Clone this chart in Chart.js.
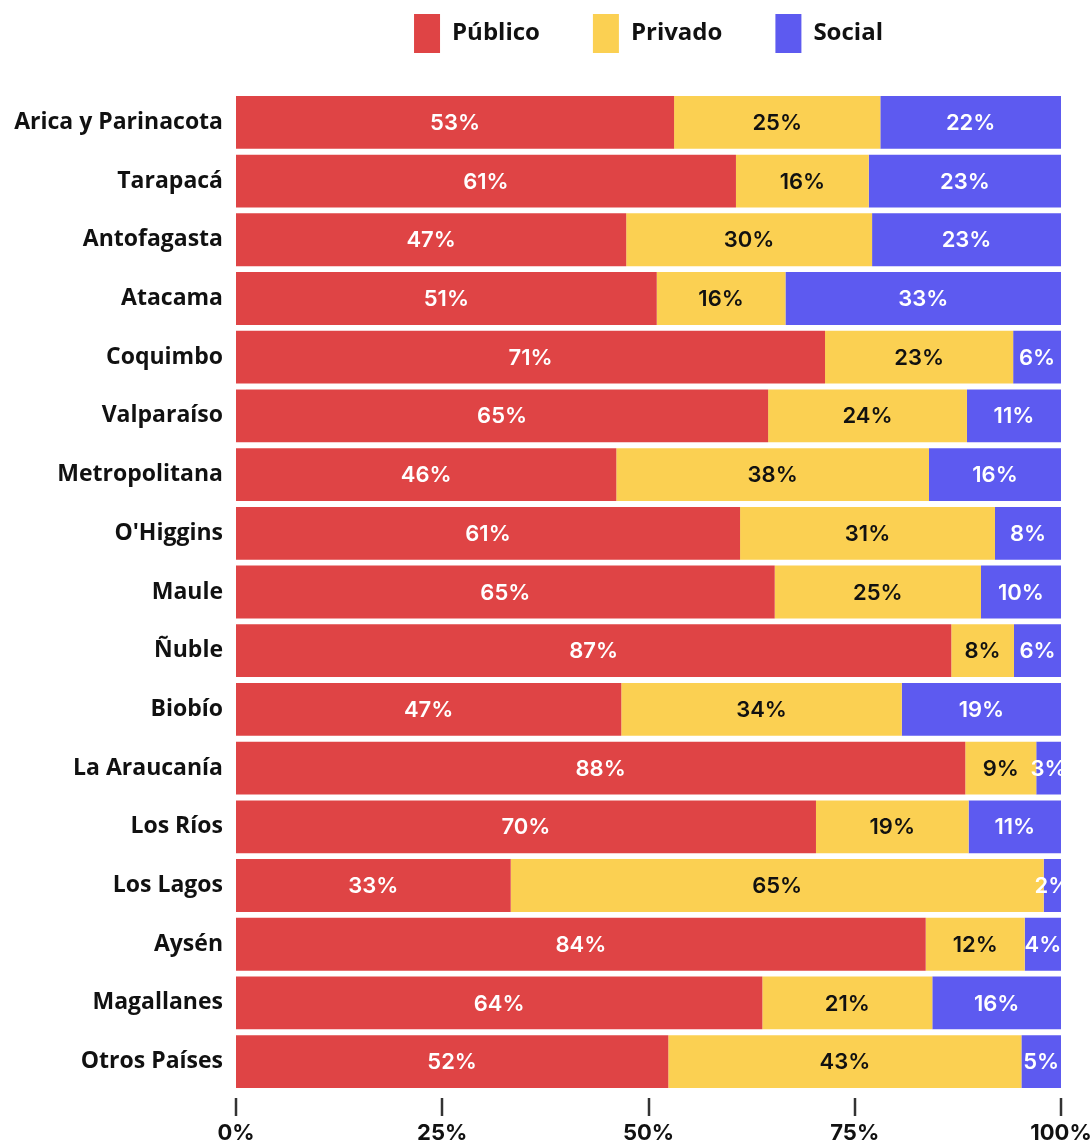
<!DOCTYPE html>
<html><head><meta charset="utf-8">
<script src="https://cdn.jsdelivr.net/npm/chart.js@4.4.1/dist/chart.umd.min.js"></script>
<style>html,body{margin:0;padding:0;background:#fff}#wrap{width:1091px;height:1141px;position:relative}</style>
</head><body><div id="wrap"><canvas id="c"></canvas></div>
<script>
const categories = ["Arica y Parinacota","Tarapacá","Antofagasta","Atacama","Coquimbo","Valparaíso","Metropolitana","O'Higgins","Maule","Ñuble","Biobío","La Araucanía","Los Ríos","Los Lagos","Aysén","Magallanes","Otros Países"];
const publico = [53.1,60.6,47.3,51.0,71.4,64.5,46.1,61.1,65.3,86.7,46.7,88.4,70.3,33.3,83.6,63.8,52.4];
const privado = [25.0,16.1,29.8,15.6,22.8,24.1,37.9,30.9,25.0,7.6,34.0,8.6,18.5,64.6,12.0,20.6,42.8];
const social  = [21.9,23.3,22.9,33.4,5.8,11.4,16.0,8.0,9.7,5.7,19.3,3.0,11.2,2.1,4.4,15.6,4.8];
const seriesNames = ["Público","Privado","Social"];
const xTicks = [0,25,50,75,100];

const FONT = "Inter, 'Open Sans', sans-serif";
const FONT2 = "'Open Sans', Inter, sans-serif";
const colors = ["#DF4445","#FBD052","#5D5AF0"];
const labelColors = ["#ffffff","#111111","#ffffff"];

const labelPlugin = {
  id: 'barLabels',
  afterDatasetsDraw(chart) {
    const ctx = chart.ctx, ca = chart.chartArea;
    ctx.save();
    ctx.beginPath();
    ctx.rect(ca.left, ca.top, ca.right - ca.left, ca.bottom - ca.top);
    ctx.clip();
    ctx.font = "600 22px " + FONT;
    ctx.textAlign = 'center';
    ctx.textBaseline = 'middle';
    chart.data.datasets.forEach((ds, di) => {
      const meta = chart.getDatasetMeta(di);
      meta.data.forEach((bar, i) => {
        const v = ds.data[i];
        const p = bar.getProps(['x','y','base'], true);
        const cx = (p.x + p.base) / 2;
        ctx.fillStyle = labelColors[di];
        ctx.fillText(Math.round(v) + '%', cx, p.y + 1);
      });
    });
    ctx.restore();
  }
};

const tickMarkPlugin = {
  id: 'tickMarks',
  afterDraw(chart) {
    const ctx = chart.ctx, sx = chart.scales.x, ca = chart.chartArea;
    ctx.save();
    ctx.strokeStyle = '#333';
    ctx.lineWidth = 2.5;
    xTicks.forEach(t => {
      const x = Math.round(sx.getPixelForValue(t));
      ctx.beginPath();
      ctx.moveTo(x, ca.bottom + 7);
      ctx.lineTo(x, ca.bottom + 25);
      ctx.stroke();
    });
    ctx.restore();
  }
};

const legendGapPlugin = {
  id: 'legendGap',
  beforeUpdate(chart) {
    const lg = chart.legend;
    if (lg && !lg._gapPatched) {
      const orig = lg.fit.bind(lg);
      lg.fit = function () { orig(); this.height += 30; };
      lg._gapPatched = true;
    }
  }
};

new Chart(document.getElementById('c'), {
  type: 'bar',
  data: {
    labels: categories,
    datasets: [publico, privado, social].map((d, i) => ({
      label: seriesNames[i],
      data: d,
      backgroundColor: colors[i],
      borderWidth: 0,
      barPercentage: 0.9,
      categoryPercentage: 1.0
    }))
  },
  options: {
    indexAxis: 'y',
    responsive: true,
    maintainAspectRatio: false,
    animation: false,
    layout: { padding: { top: -39, right: 30, bottom: 0, left: 0 } },
    plugins: {
      legend: {
        position: 'top',
        fullSize: false,
        labels: {
          boxWidth: 26, boxHeight: 39, padding: 53,
          color: '#111',
          font: { family: FONT2, size: 24, weight: '700' }
        }
      },
      tooltip: { enabled: false }
    },
    scales: {
      x: {
        stacked: true, min: 0, max: 100,
        border: { display: false },
        grid: { display: false, drawOnChartArea: false, drawTicks: false },
        afterBuildTicks(s) { s.ticks = xTicks.map(v => ({ value: v })); },
        afterFit(s) { s.height = 50; s.paddingRight = 0; s.paddingLeft = 0; },
        ticks: {
          padding: 29,
          color: '#111',
          font: { family: FONT, size: 22, weight: '700' },
          callback: v => v + '%'
        }
      },
      y: {
        stacked: true,
        border: { display: false },
        grid: { display: false, drawTicks: false },
        afterFit(s) { s.width = 236; },
        ticks: {
          padding: 13,
          color: '#111',
          font: { family: FONT2, size: 23, weight: '700' }
        }
      }
    }
  },
  plugins: [labelPlugin, tickMarkPlugin, legendGapPlugin]
});
</script>
</body></html>
